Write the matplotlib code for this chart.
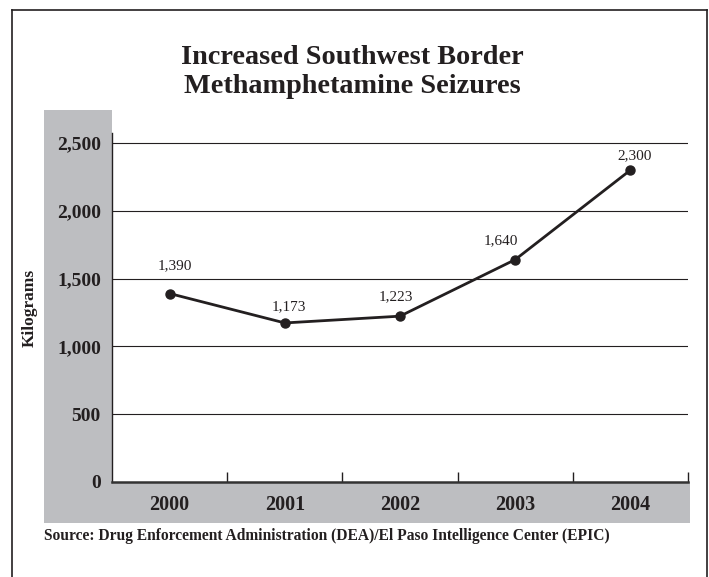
import matplotlib
matplotlib.use("Agg")
import matplotlib.pyplot as plt
from matplotlib.patches import Rectangle
from matplotlib.lines import Line2D

# Southwest border methamphetamine seizures, kilograms per year
years = ["2000", "2001", "2002", "2003", "2004"]
seizures = [1390, 1173, 1223, 1640, 2300]
value_labels = ["1,390", "1,173", "1,223", "1,640", "2,300"]
y_ticks = [0, 500, 1000, 1500, 2000, 2500]
y_tick_labels = ["0", "500", "1,000", "1,500", "2,000", "2,500"]

title = "Increased Southwest Border\nMethamphetamine Seizures"
y_title = "Kilograms"
source = "Source: Drug Enforcement Administration (DEA)/El Paso Intelligence Center (EPIC)"

# label offsets in points (dx, dy) relative to each marker
label_offsets = [(4, 15), (3, 7), (-3, 9), (-10, 9), (3, 6)]

W, H = 709, 577
DPI = 100
plt.rcParams["font.family"] = ["Liberation Serif", "DejaVu Serif"]

fig = plt.figure(figsize=(W / DPI, H / DPI), dpi=DPI)
fig.patch.set_facecolor("white")

def fx(px):
    return px / W

def fy(py):
    return 1 - py / H

gray = "#bdbec1"
ink = "#231f20"

# grey bands behind the axis labels
fig.patches.append(Rectangle((fx(44), fy(523)), fx(112) - fx(44), fy(110) - fy(523),
                             transform=fig.transFigure, facecolor=gray, edgecolor="none", zorder=-2))
fig.patches.append(Rectangle((fx(44), fy(523)), fx(690) - fx(44), fy(482) - fy(523),
                             transform=fig.transFigure, facecolor=gray, edgecolor="none", zorder=-2))

# outer frame (open at the bottom)
for xs, ys in [((12, 12), (10, H)), ((12, 707), (10, 10)), ((707, 707), (10, H))]:
    fig.lines.append(Line2D([fx(x) for x in xs], [fy(y) for y in ys], transform=fig.transFigure,
                            color=ink, linewidth=1.2))

ax_left, ax_right = 112, 688
ax_bottom, ax_top = 482, 133
grid_top = 143
ax = fig.add_axes([fx(ax_left), fy(ax_bottom), fx(ax_right) - fx(ax_left), fy(ax_top) - fy(ax_bottom)])
ax.set_zorder(1)
ax.set_facecolor("white")
ymax = 2500 * (ax_bottom - ax_top) / (ax_bottom - grid_top)
ax.set_ylim(0, ymax)
ax.set_xlim(-0.5, len(years) - 0.5)

for v in y_ticks[1:]:
    ax.axhline(v, color=ink, linewidth=0.8, zorder=1)

xs = list(range(len(years)))
ax.plot(xs, seizures, color=ink, linewidth=2.0, marker="o", markersize=6.5, zorder=3, clip_on=False)
for x, v, lab, (dx, dy) in zip(xs, seizures, value_labels, label_offsets):
    ax.annotate(lab, (x, v), xytext=(dx, dy), textcoords="offset points",
                ha="center", va="bottom", fontsize=11, color=ink)

for side in ["top", "right"]:
    ax.spines[side].set_visible(False)
ax.spines["left"].set_color(ink)
ax.spines["left"].set_linewidth(1.0)
ax.spines["bottom"].set_color("#333333")
ax.spines["bottom"].set_linewidth(1.8)

ax.set_yticks(y_ticks)
ax.set_yticklabels(y_tick_labels, fontsize=14, fontweight="bold", color=ink)
ax.tick_params(axis="y", length=0, pad=8)

ax.set_xticks(xs)
ax.set_xticklabels(years, fontsize=14.5, fontweight="bold", color=ink)
ax.tick_params(axis="x", which="major", length=0, pad=9)
ax.set_xticks([i + 0.5 for i in xs], minor=True)
ax.tick_params(axis="x", which="minor", direction="in", length=7, width=1, color=ink)

fig.text(fx(30), fy(308), y_title, rotation=90, ha="center", va="center",
         fontsize=12.5, fontweight="bold", color=ink)
fig.text(fx(352), fy(72), title, ha="center", va="center", fontsize=20.3,
         fontweight="bold", color=ink, linespacing=1.25)
fig.text(fx(44), fy(536), source, ha="left", va="center", fontsize=11.2, fontweight="bold", color=ink)

fig.savefig("out.png", dpi=DPI)
